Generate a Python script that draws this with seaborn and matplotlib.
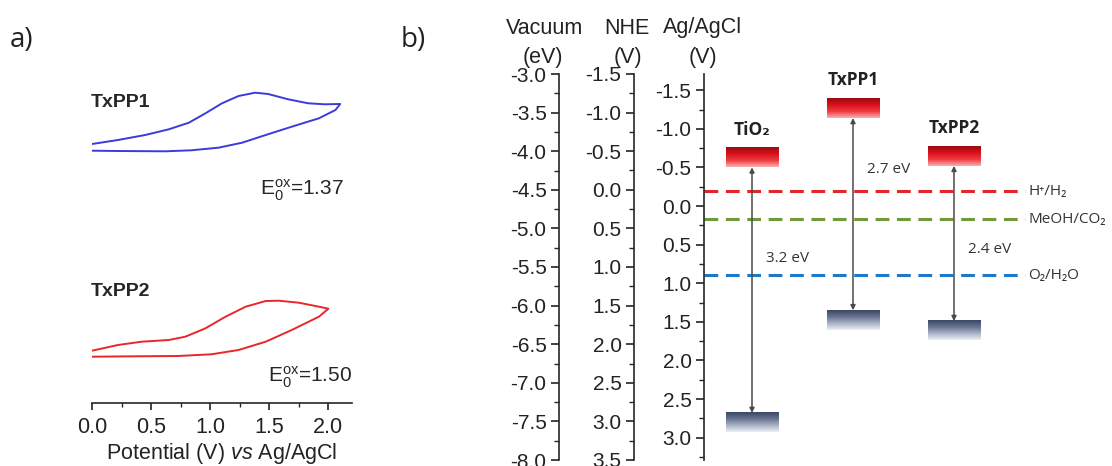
import numpy as np
import pandas as pd
import matplotlib
matplotlib.use("Agg")
import matplotlib.pyplot as plt
import seaborn as sns
from matplotlib.colors import LinearSegmentedColormap
from matplotlib.ticker import MultipleLocator, FormatStrFormatter

# ---------------- data ----------------
# Panel a: cyclic voltammograms (potential V vs Ag/AgCl, current in arbitrary units)
txpp1_fwd_v = [0.00, 0.22, 0.45, 0.65, 0.82, 0.96, 1.10, 1.24, 1.38, 1.49, 1.66, 1.83, 1.97, 2.10]
txpp1_fwd_i = [25.90, 26.30, 26.80, 27.37, 28.03, 28.97, 29.97, 30.70, 31.03, 30.90, 30.37, 29.97, 29.87, 29.90]
txpp1_rev_v = [2.06, 1.92, 1.69, 1.47, 1.27, 1.07, 0.84, 0.62, 0.22, 0.00]
txpp1_rev_i = [29.30, 28.47, 27.63, 26.80, 26.03, 25.53, 25.27, 25.17, 25.20, 25.23]
txpp2_fwd_v = [0.00, 0.22, 0.42, 0.65, 0.79, 0.96, 1.13, 1.30, 1.47, 1.58, 1.75, 1.92, 2.00]
txpp2_fwd_i = [5.23, 5.80, 6.13, 6.30, 6.63, 7.47, 8.63, 9.63, 10.20, 10.23, 10.03, 9.63, 9.43]
txpp2_rev_v = [1.92, 1.69, 1.47, 1.24, 1.01, 0.73, 0.36, 0.00]
txpp2_rev_i = [8.63, 7.30, 6.13, 5.30, 4.87, 4.70, 4.67, 4.63]
e0_ox_names = ["TxPP1", "TxPP2"]
e0_ox_values = [1.37, 1.50]

# Panel b: energy levels (V vs Ag/AgCl)
materials = ["TiO₂", "TxPP1", "TxPP2"]
cb_edge = [-0.50, -1.14, -0.52]      # lower edge of conduction band / LUMO
vb_edge = [2.68, 1.35, 1.49]         # upper edge of valence band / HOMO
gap_labels = ["3.2 eV", "2.7 eV", "2.4 eV"]
redox_names = ["H⁺/H₂", "MeOH/CO₂", "O₂/H₂O"]
redox_agagcl = [-0.19, 0.17, 0.90]
agagcl_vs_nhe = 0.21                 # E(NHE) = E(Ag/AgCl) + 0.21
vacuum_of_nhe0 = -4.5                # E(vacuum) = -4.5 - E(NHE)

# ---------------- style ----------------
sns.set_style("ticks")
plt.rcParams["font.family"] = ["Liberation Sans", "DejaVu Sans"]
plt.rcParams["axes.unicode_minus"] = False
plt.rcParams["mathtext.fontset"] = "custom"
plt.rcParams["mathtext.rm"] = "Liberation Sans"
plt.rcParams["mathtext.it"] = "Liberation Sans:italic"
plt.rcParams["mathtext.bf"] = "Liberation Sans:bold"
CAL = ["Open Sans", "DejaVu Sans"]

W, H = 1112, 466
fig = plt.figure(figsize=(W / 100, H / 100), dpi=100)


def fx(px):
    return px / W


def fy(py):
    return 1 - py / H


# ---------------- panel a ----------------
axa = fig.add_axes([fx(92), fy(403), fx(352) - fx(92), fy(80) - fy(403)])
cv = pd.concat([
    pd.DataFrame({"V": txpp1_fwd_v + txpp1_rev_v, "I": txpp1_fwd_i + txpp1_rev_i, "dye": "TxPP1"}),
    pd.DataFrame({"V": txpp2_fwd_v + txpp2_rev_v, "I": txpp2_fwd_i + txpp2_rev_i, "dye": "TxPP2"}),
])
sns.lineplot(data=cv[cv.dye == "TxPP1"], x="V", y="I", sort=False, estimator=None,
             color="#3b3bdc", lw=1.4, ax=axa)
sns.lineplot(data=cv[cv.dye == "TxPP2"], x="V", y="I", sort=False, estimator=None,
             color="#e8262b", lw=1.4, ax=axa)
axa.set_xlim(0, 2.2)
axa.set_ylim(0, 32.3)
for s in ["left", "right", "top"]:
    axa.spines[s].set_visible(False)
axa.spines["bottom"].set_linewidth(1.2)
axa.set_yticks([])
axa.set_ylabel("")
axa.set_xticks([0.0, 0.5, 1.0, 1.5, 2.0])
axa.xaxis.set_minor_locator(MultipleLocator(0.25))
axa.xaxis.set_major_formatter(FormatStrFormatter("%.1f"))
axa.tick_params(axis="x", which="major", direction="out", length=5, width=1.2,
                labelsize=15.5, pad=5, colors="#222222")
axa.tick_params(axis="x", which="minor", direction="out", length=3, width=1.0)
axa.set_xlabel(r"Potential (V) $\mathit{vs}$ Ag/AgCl", fontsize=15.5, labelpad=2, color="#222222")

axa.text(-0.01, 30.0, e0_ox_names[0], fontsize=14, fontweight="bold", ha="left", va="center")
axa.text(-0.01, 11.1, e0_ox_names[1], fontsize=14, fontweight="bold", ha="left", va="center")
axa.text(2.13, 21.3, r"E$_0^{\mathrm{ox}}$=%.2f" % e0_ox_values[0], fontsize=15, ha="right", va="center")
axa.text(2.20, 2.6, r"E$_0^{\mathrm{ox}}$=%.2f" % e0_ox_values[1], fontsize=15, ha="right", va="center")

fig.text(fx(10), fy(40), "a)", fontsize=20, family=CAL, ha="left", va="center", color="#222222")
fig.text(fx(401), fy(40), "b)", fontsize=20, family=CAL, ha="left", va="center", color="#222222")

# ---------------- panel b ----------------
b_bot, b_top = fy(460), fy(74)
ag_lo = -1.5 - agagcl_vs_nhe          # Ag/AgCl value at top edge
ag_hi = 3.5 - agagcl_vs_nhe           # Ag/AgCl value at bottom edge


def scale_axis(left_px, lim, major, minor):
    ax = fig.add_axes([fx(left_px), b_bot, 0.002, b_top - b_bot])
    ax.patch.set_alpha(0)
    for s in ["right", "top", "bottom"]:
        ax.spines[s].set_visible(False)
    ax.spines["left"].set_linewidth(1.2)
    ax.set_xticks([])
    ax.set_ylim(*lim)
    ax.yaxis.set_major_locator(MultipleLocator(major))
    ax.yaxis.set_minor_locator(MultipleLocator(minor))
    ax.yaxis.set_major_formatter(FormatStrFormatter("%.1f"))
    ax.tick_params(axis="y", which="major", direction="out", length=6, width=1.2,
                   labelsize=15, pad=3, colors="#222222")
    ax.tick_params(axis="y", which="minor", direction="out", length=3.5, width=1.0)
    return ax


nhe_top, nhe_bot = ag_lo + agagcl_vs_nhe, ag_hi + agagcl_vs_nhe
axv = scale_axis(559, (vacuum_of_nhe0 - nhe_bot, vacuum_of_nhe0 - nhe_top), 0.5, 0.25)
axn = scale_axis(634, (nhe_bot, nhe_top), 0.5, 0.25)

axb = fig.add_axes([fx(704), b_bot, 1 - fx(704), b_top - b_bot])
axb.patch.set_alpha(0)
for s in ["right", "top", "bottom"]:
    axb.spines[s].set_visible(False)
axb.spines["left"].set_linewidth(1.2)
axb.set_xticks([])

half_w = 0.26
thick = 0.25
cb_cmap = LinearSegmentedColormap.from_list("cb", ["#9c0b10", "#d8121c", "#ee3a40", "#f9aeb1"])
vb_cmap = LinearSegmentedColormap.from_list("vb", ["#3b4764", "#66738f", "#a9b2c6", "#eceef4"])
grad = np.linspace(0, 1, 64).reshape(-1, 1)

for i, (name, cb, vb) in enumerate(zip(materials, cb_edge, vb_edge)):
    axb.imshow(grad, cmap=cb_cmap, aspect="auto", origin="upper", zorder=3,
               extent=(i - half_w, i + half_w, cb, cb - thick))
    axb.imshow(grad, cmap=vb_cmap, aspect="auto", origin="upper", zorder=3,
               extent=(i - half_w, i + half_w, vb + thick, vb))
    axb.annotate("", xy=(i, vb), xytext=(i, cb),
                 arrowprops=dict(arrowstyle="<|-|>", color="#4a4a4a", lw=1.1,
                                 mutation_scale=7, shrinkA=0, shrinkB=0), zorder=4)
    axb.text(i, cb - thick - 0.24, name, fontsize=12.5, fontweight="bold", family=CAL,
             ha="center", va="center", color="#222222")

gap_label_y = [0.68, -0.47, 0.56]
for i, (lab, ly) in enumerate(zip(gap_labels, gap_label_y)):
    axb.text(i + 0.35, ly, lab, fontsize=11, family=CAL, ha="center", va="center", color="#333333")

redox_colors = ["#e3262b", "#6e9a3c", "#1f78c8"]
x_left = (704 - 752) / 101
x_right = (1112 - 752) / 101
axb.set_xlim(x_left, x_right)
dash_end = (1025 - 752) / 101
for name, y, c in zip(redox_names, redox_agagcl, redox_colors):
    axb.plot([x_left, dash_end], [y, y], color=c, lw=2.2, ls=(0, (4.5, 2.5)), zorder=2)
    axb.text(dash_end + 0.03, y, name, fontsize=11, family=CAL, ha="left", va="center",
             color="#333333")

axb.set_ylim(ag_hi, ag_lo)
axb.yaxis.set_major_locator(MultipleLocator(0.5))
axb.yaxis.set_minor_locator(MultipleLocator(0.25))
axb.yaxis.set_major_formatter(FormatStrFormatter("%.1f"))
axb.tick_params(axis="y", which="major", direction="out", length=6, width=1.2,
                labelsize=15, pad=3, colors="#222222")
axb.tick_params(axis="y", which="minor", direction="out", length=3.5, width=1.0)

# scale headers
for (xp, txt) in [(545, "Vacuum"), (627, "NHE"), (703, "Ag/AgCl")]:
    fig.text(fx(xp), fy(28), txt, fontsize=15.5, ha="center", va="center", color="#222222")
for (xp, txt) in [(543, "(eV)"), (628, "(V)"), (703, "(V)")]:
    fig.text(fx(xp), fy(57), txt, fontsize=15.5, ha="center", va="center", color="#222222")

fig.savefig("out.png", dpi=100)
